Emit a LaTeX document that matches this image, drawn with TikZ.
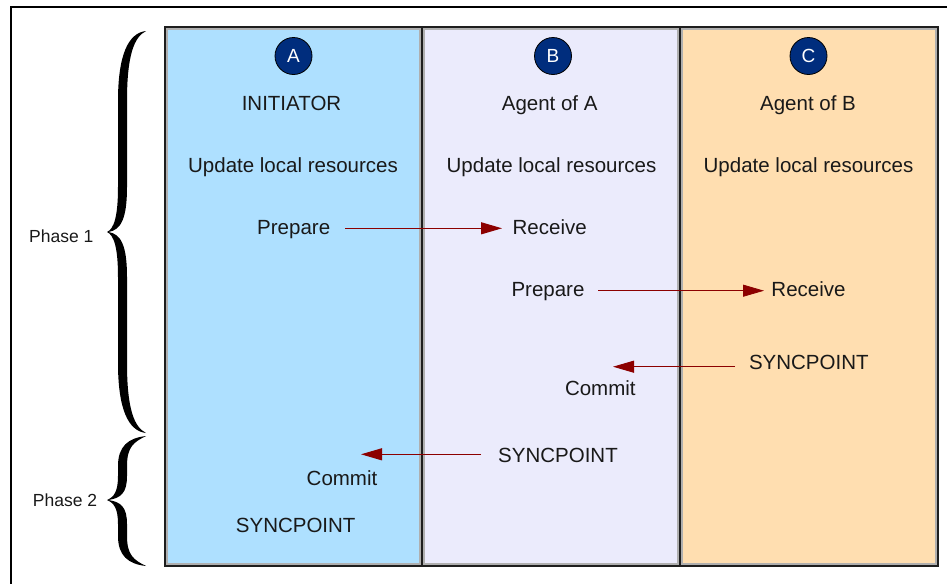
\documentclass[tikz,border=0pt]{standalone}
\usepackage{fontspec}
\setmainfont{Liberation Sans}
\usetikzlibrary{arrows.meta}
\definecolor{colA}{RGB}{174,224,255}
\definecolor{colB}{RGB}{235,235,252}
\definecolor{colC}{RGB}{255,222,176}
\definecolor{navy}{RGB}{0,45,125}
\definecolor{arrowred}{RGB}{140,0,0}
\definecolor{edgedark}{RGB}{30,30,30}
\definecolor{edgegray}{RGB}{175,175,175}
\newcommand\bracefill[5]{%
  % #1 top y, #2 tip y, #3 bottom y, #4 end-curve length, #5 tip-curve length
  \fill[black] (146,#1)
    .. controls (128,{#1+2}) and (118,{#1+#4*0.35}) .. (118,{#1+#4})
    -- (118,{#2-#5})
    .. controls (118,{#2-#5*0.35}) and (114,{#2-3}) .. (107,#2)
    .. controls (114,{#2+3}) and (118,{#2+#5*0.35}) .. (118,{#2+#5})
    -- (118,{#3-#4})
    .. controls (118,{#3-#4*0.35}) and (128,{#3-2}) .. (146,#3)
    .. controls (134,{#3-6}) and (127,{#3-#4*0.35}) .. (127,{#3-#4})
    -- (127,{#2+#5})
    .. controls (127,{#2+#5*0.3}) and (121,{#2+2}) .. (108.5,#2)
    .. controls (121,{#2-2}) and (127,{#2-#5*0.3}) .. (127,{#2-#5})
    -- (127,{#1+#4})
    .. controls (127,{#1+#4*0.35}) and (134,{#1+6}) .. (146,#1) -- cycle;}
\tikzset{
  txt/.style={font=\fontsize{20.5}{24}\selectfont, text=black!90, inner sep=0pt, anchor=base},
  phasetxt/.style={font=\fontsize{17.5}{21}\selectfont, text=black!90, inner sep=0pt, anchor=base},
  badge/.style={circle, fill=navy, draw=black, line width=0.8pt, minimum size=37pt, inner sep=0pt,
     text=white, font=\fontsize{19}{22}\selectfont},
  msg/.style={draw=arrowred, line width=1.1pt, -{Triangle[length=21pt,width=12pt]}},
  colbox/.style={line width=1.6pt, draw=edgedark},
  colinner/.style={line width=1.4pt, draw=edgegray},
}
\begin{document}
\begin{tikzpicture}[x=1pt,y=-1pt]
\useasboundingbox (0,0) rectangle (947,584);
% outer frame (top and left edges)
\draw[line width=1.5pt, black] (947,7) -- (11,7) -- (11,584);
% columns
\fill[colA] (165,27) rectangle (422,566);
\fill[colB] (422,27) rectangle (680,566);
\fill[colC] (680,27) rectangle (938,566);
\draw[colinner] (167,29) rectangle (420,564);
\draw[colinner] (424,29) rectangle (678,564);
\draw[colinner] (682,29) rectangle (936,564);
\draw[colbox] (165,27) rectangle (422,566);
\draw[colbox] (422,27) rectangle (680,566);
\draw[colbox] (680,27) rectangle (938,566);
% badges
\node[badge] (bA) at (293.5,56) {A};
\node[badge] (bB) at (553,56) {B};
\node[badge] (bC) at (808.5,56) {C};
% headings
\node[txt] (hA) at (291.5,110) {INITIATOR};
\node[txt] (hB) at (549.7,110) {Agent of A};
\node[txt] (hC) at (808,110) {Agent of B};
\node[txt] (uA) at (293,172.5) {Update local resources};
\node[txt] (uB) at (551.5,172.5) {Update local resources};
\node[txt] (uC) at (808.5,172.5) {Update local resources};
% messages
\node[txt] (prepA) at (293.7,234.5) {Prepare};
\node[txt] (recvB) at (549.7,234.5) {Receive};
\node[txt] (prepB) at (548,296) {Prepare};
\node[txt] (recvC) at (808.5,296) {Receive};
\node[txt] (syncC) at (808.8,369.3) {SYNCPOINT};
\node[txt] (commB) at (600.3,395) {Commit};
\node[txt] (syncB) at (558,462.3) {SYNCPOINT};
\node[txt] (commA) at (342,485) {Commit};
\node[txt] (syncA) at (295.7,532.3) {SYNCPOINT};
% arrow end points
\coordinate (a1s) at (345,228.3);
\coordinate (a1e) at (502,228.3);
\coordinate (a2s) at (598,290.7);
\coordinate (a2e) at (764,290.7);
\coordinate (a3s) at (735,366.7);
\coordinate (a3e) at (613,366.7);
\coordinate (a4s) at (481,454.3);
\coordinate (a4e) at (361,454.3);
\draw[msg] (a1s) -- (a1e);
\draw[msg, line width=0.8pt] (a2s) -- (a2e);
\draw[msg, line width=0.9pt] (a3s) -- (a3e);
\draw[msg] (a4s) -- (a4e);
% braces
\bracefill{31}{232}{433}{70}{45}
\bracefill{436}{500}{566}{30}{24}
\node[phasetxt] (ph1) at (61.3,242.7) {Phase 1};
\node[phasetxt] (ph2) at (65,506.7) {Phase 2};
\end{tikzpicture}
\end{document}
